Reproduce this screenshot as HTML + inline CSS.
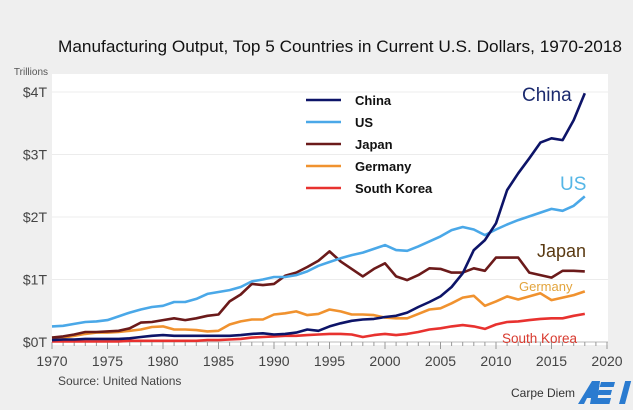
<!DOCTYPE html>
<html><head><meta charset="utf-8"><style>
body{margin:0;background:#efefef;width:633px;height:410px;overflow:hidden;font-family:"Liberation Sans",sans-serif}
svg{display:block}
</style></head><body>
<svg id="chart" width="633" height="410">
<rect x="52" y="74" width="556" height="271" fill="#fff"/>
<text x="58" y="52" font-size="17" fill="#111" textLength="564" lengthAdjust="spacingAndGlyphs">Manufacturing Output, Top 5 Countries in Current U.S. Dollars, 1970-2018</text>
<text x="48" y="75" text-anchor="end" font-size="10" fill="#555">Trillions</text>
<g id="grid"></g><g id="axes"></g><g id="series"></g>
<g font-size="13" font-weight="bold" fill="#111" id="legend"></g>
<text x="522" y="101" font-size="19" fill="#1b2a6e">China</text>
<text x="560" y="190" font-size="19" fill="#55b6e6">US</text>
<text x="537" y="257" font-size="18" fill="#5a3a12">Japan</text>
<text x="519" y="291" font-size="13" fill="#e3a43c">Germany</text>
<text x="502" y="343" font-size="13.5" fill="#d83a2f">South Korea</text>
<text x="58" y="385" font-size="12" fill="#444">Source: United Nations</text>
<text x="511" y="397" font-size="12" fill="#333">Carpe Diem</text>
<g fill="#2a7bd0">
<polygon points="578,404 592,381 600,381 597,404 590,404 591,398 587,398 584,404"/>
<rect x="601" y="382" width="14" height="5" transform="skewX(-15)" transform-origin="601 382"/>
<rect x="599" y="390" width="13" height="5" transform="skewX(-15)" transform-origin="599 390"/>
<rect x="597" y="398" width="14" height="6" transform="skewX(-15)" transform-origin="597 398"/>
<rect x="619" y="381" width="6" height="23" transform="skewX(-15)" transform-origin="619 404"/>
</g>
</svg>
<script>
const years=[];for(let y=1970;y<=2018;y++)years.push(y);
const china=[.03,.04,.04,.05,.05,.05,.05,.06,.08,.1,.11,.1,.1,.1,.1,.1,.1,.11,.13,.14,.12,.13,.15,.2,.18,.25,.3,.34,.36,.37,.4,.42,.47,.56,.64,.73,.88,1.1,1.47,1.63,1.9,2.43,2.7,2.94,3.19,3.26,3.23,3.55,3.98];
const us=[.25,.26,.29,.32,.33,.35,.41,.47,.52,.56,.58,.64,.64,.69,.77,.8,.83,.88,.97,1.0,1.04,1.04,1.07,1.13,1.22,1.28,1.34,1.39,1.43,1.49,1.55,1.47,1.46,1.53,1.61,1.69,1.79,1.84,1.8,1.71,1.8,1.88,1.95,2.01,2.07,2.13,2.1,2.18,2.33];
const japan=[.07,.09,.12,.16,.16,.17,.18,.22,.31,.32,.35,.38,.35,.38,.42,.44,.65,.76,.93,.91,.93,1.06,1.11,1.2,1.3,1.45,1.29,1.17,1.05,1.17,1.26,1.05,.99,1.07,1.18,1.17,1.11,1.11,1.18,1.14,1.35,1.35,1.35,1.11,1.07,1.03,1.14,1.14,1.13];
const germany=[.06,.07,.1,.13,.15,.15,.16,.18,.2,.24,.25,.2,.2,.19,.17,.18,.28,.33,.36,.36,.44,.46,.49,.43,.45,.52,.49,.44,.44,.43,.39,.38,.38,.45,.52,.54,.62,.71,.74,.58,.65,.73,.68,.73,.78,.67,.71,.75,.81];
const korea=[.01,.01,.01,.01,.01,.01,.01,.02,.02,.02,.02,.02,.02,.02,.03,.03,.04,.05,.07,.08,.09,.1,.1,.11,.12,.13,.13,.12,.08,.11,.13,.11,.13,.16,.2,.22,.25,.27,.25,.21,.28,.32,.33,.35,.37,.38,.38,.42,.45];
const yTicks=[0,1,2,3,4];
const yTickLabels=["$0T","$1T","$2T","$3T","$4T"];
const xTicks=[1970,1975,1980,1985,1990,1995,2000,2005,2010,2015,2020];
const seriesNames=["China","US","Japan","Germany","South Korea"];
const NS="http://www.w3.org/2000/svg";
const xs=y=>52+(y-1970)*11.1;
const ys=v=>342-v*62.5;
function mk(tag,attrs,parent){const e=document.createElementNS(NS,tag);for(const k in attrs)e.setAttribute(k,attrs[k]);parent.appendChild(e);return e;}
const grid=document.getElementById('grid'),axes=document.getElementById('axes'),ser=document.getElementById('series'),leg=document.getElementById('legend');
yTicks.forEach((v,i)=>{
 if(v>0){const g=mk('line',{x1:52,x2:608,y1:ys(v),y2:ys(v),stroke:'#ececec','stroke-width':1},grid);
 
 }
 const t=mk('text',{x:47,y:ys(v)+5,'text-anchor':'end','font-size':14,fill:'#444'},axes);
 t.textContent=yTickLabels[i];
 
 
});
const ax=mk('line',{x1:52,x2:608,y1:342,y2:342,stroke:'#bbb','stroke-width':1},axes);


for(let y=1970;y<=2020;y++){const major=y%5===0;const tk=mk('line',{x1:xs(y),x2:xs(y),y1:342,y2:major?349:346,stroke:'#999','stroke-width':1},axes);
 
 }
xTicks.forEach(y=>{const t=mk('text',{x:xs(y),y:366,'text-anchor':'middle','font-size':14,fill:'#444'},axes);
 t.textContent=y;
 
 });
const data=[china,us,japan,germany,korea];
const colors=['#0d1468','#4aa8e8','#6b1a1a','#f0922f','#e8322f'];
const names=['china-line','us-line','japan-line','germany-line','south-korea-line'];
[4,3,2,1,0].forEach(i=>{
 const d=data[i].map((v,k)=>(k?'L':'M')+xs(years[k]).toFixed(1)+','+ys(v).toFixed(1)).join('');
 const p=mk('path',{d:d,fill:'none',stroke:colors[i],'stroke-width':2.6,'stroke-linejoin':'round'},ser);
 
 
});
seriesNames.forEach((n,i)=>{const y=100+i*22;
 const l=mk('line',{x1:306,x2:341,y1:y,y2:y,stroke:colors[i],'stroke-width':2.6},leg);
 
 
 const t=mk('text',{x:355,y:y+5},leg);t.textContent=n;
 
 
});
</script>
</body></html>
